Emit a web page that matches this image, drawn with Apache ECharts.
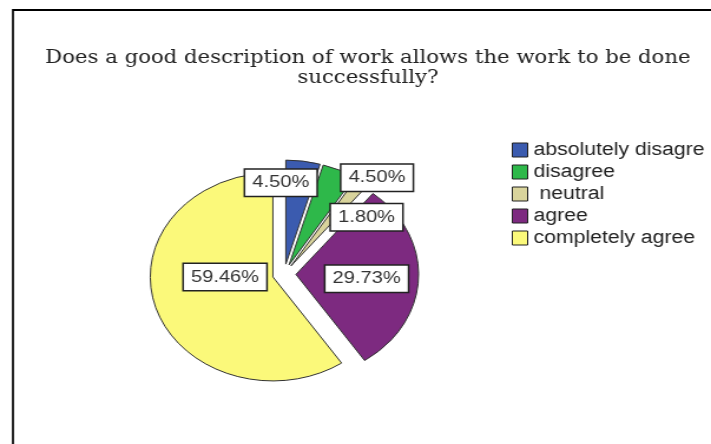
<!DOCTYPE html>
<html>
<head>
<meta charset="utf-8">
<script src="https://cdn.jsdelivr.net/npm/echarts@6/dist/echarts.min.js"></script>
<style>
html,body{margin:0;padding:0;background:#fff;overflow:hidden;}
#chart{width:603px;height:444px;transform:scaleX(1.1791);transform-origin:0 0;}
</style>
</head>
<body>
<div id="chart"></div>
<script>
const categories = ['absolutely disagre', 'disagree', ' neutral', 'agree', 'completely agree'];
const values = [4.50, 4.50, 1.80, 29.73, 59.46];
const exploded = [true, true, true, true, true];
const colors = ['#3B5BAF', '#2EB84A', '#D9D49C', '#7D2A80', '#FBF97A'];
const titleText = 'Does a good description of work allows the work to be done\nsuccessfully?';
// label nudges (pixels) relative to the library's inside position
const labelShift = [[-12, -27], [52, -37], [32, -4], [5, 2], [12, -16]];

const chart = echarts.init(document.getElementById('chart'), null, {renderer: 'canvas'});
const option = {
  backgroundColor: '#fff',
  animation: false,
  title: {
    text: titleText,
    left: 307,
    top: 43,
    textAlign: 'center',
    textStyle: {fontFamily: 'DejaVu Serif', fontSize: 18, fontWeight: 'normal', color: '#222', lineHeight: 20}
  },
  legend: {
    orient: 'vertical',
    left: 429,
    top: 136,
    itemWidth: 13,
    itemHeight: 14,
    itemGap: 4,
    icon: 'rect',
    selectedMode: false,
    textStyle: {fontFamily: 'Liberation Sans', fontSize: 18, color: '#222'},
    itemStyle: {borderColor: '#222', borderWidth: 1},
    data: categories
  },
  graphic: [
    {type: 'line', shape: {x1: 11, y1: 10, x2: 603, y2: 10}, style: {stroke: '#000', lineWidth: 2}},
    {type: 'line', shape: {x1: 11, y1: 9, x2: 11, y2: 444}, style: {stroke: '#000', lineWidth: 1.7}}
  ],
  series: [{
    type: 'pie',
    center: [241, 274],
    radius: 104,
    startAngle: 90,
    clockwise: true,
    selectedMode: 'multiple',
    selectedOffset: 10,
    avoidLabelOverlap: false,
    emphasis: {disabled: true},
    itemStyle: {borderColor: '#333', borderWidth: 1},
    label: {
      show: true,
      position: 'inside',
      formatter: p => p.value.toFixed(2) + '%',
      fontFamily: 'Liberation Sans',
      fontSize: 17,
      color: '#333',
      backgroundColor: '#fff',
      borderColor: '#222',
      borderWidth: 1.5,
      padding: [5, 6, 4, 6]
    },
    labelLine: {show: false},
    labelLayout: params => ({dx: labelShift[params.dataIndex][0], dy: labelShift[params.dataIndex][1]}),
    data: categories.map((c, i) => ({name: c, value: values[i], selected: exploded[i], itemStyle: {color: colors[i]}}))
  }]
};
chart.setOption(option);
</script>
</body>
</html>
